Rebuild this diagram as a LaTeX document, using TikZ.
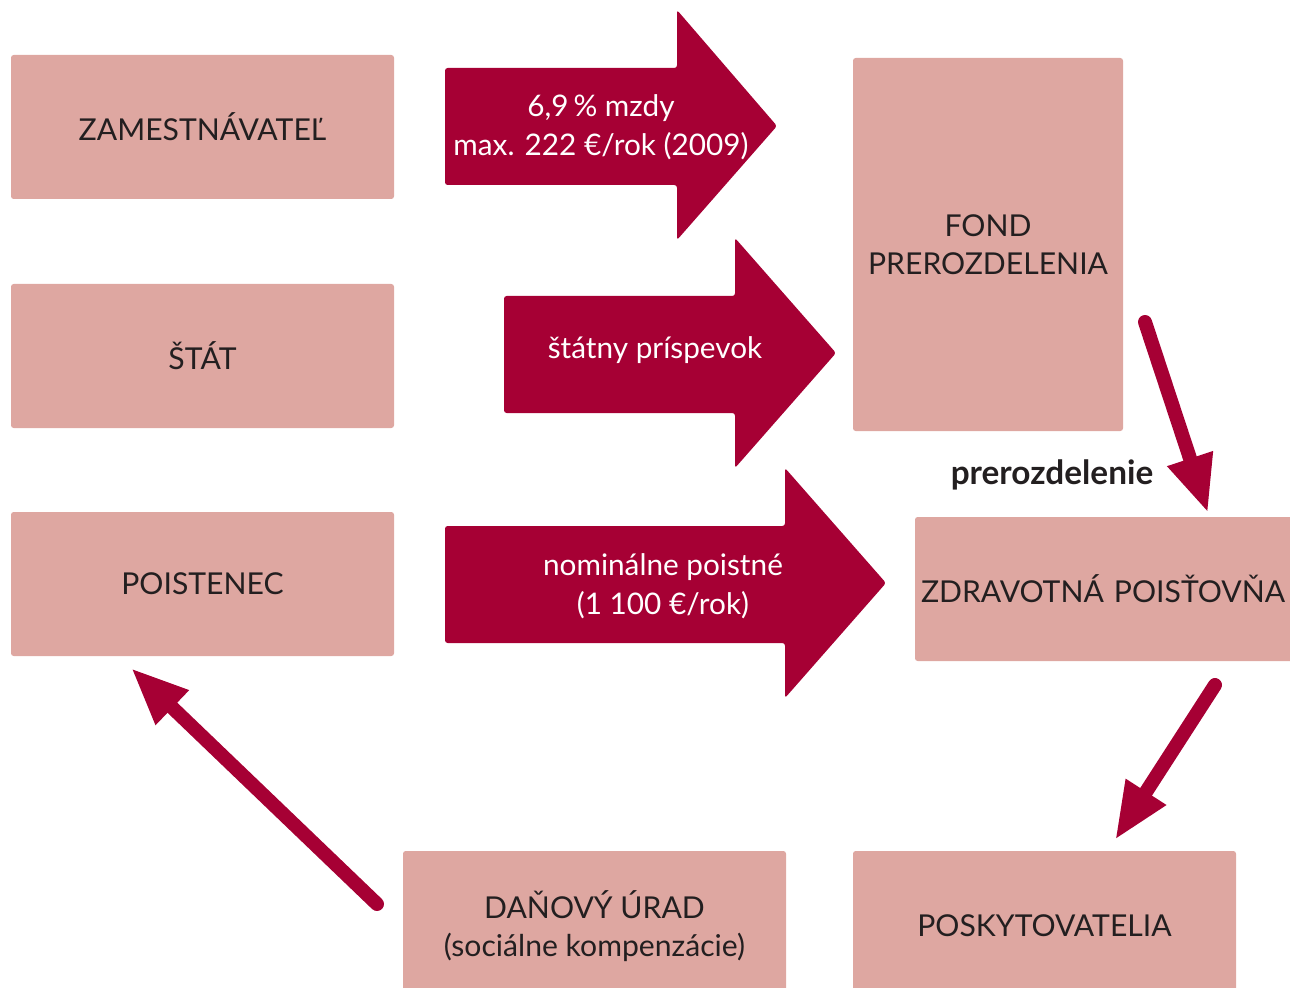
\documentclass[tikz,border=0pt]{standalone}
\usepackage{fontspec}
\setmainfont{Lato}
\usetikzlibrary{arrows.meta}
\definecolor{boxpink}{RGB}{222,167,161}
\definecolor{arrowred}{RGB}{166,0,52}
\definecolor{txtdark}{RGB}{35,31,32}
\tikzset{
  box/.style args={#1x#2}{fill=boxpink, rounded corners=2pt, minimum width=#1*0.75pt, minimum height=#2*0.75pt, inner sep=0pt, text=txtdark, align=center, font=\fontsize{22.6}{28.7}\selectfont},
  bigarrow/.style={fill=arrowred, rounded corners=2pt},
  arrowtext/.style={text=white, align=center, font=\fontsize{22.3}{29}\selectfont},
  thinarrow/.style={draw=arrowred, line width=10.5pt, line cap=round, -{Triangle[length=43pt,width=33pt]}}
}
\begin{document}
\begin{tikzpicture}[x=0.75pt,y=-0.75pt]
\useasboundingbox (0,0) rectangle (1290,988);
\clip (0,0) rectangle (1290,988);
% boxes
\node[box=383x144] (zam) at (202.5,127) {ZAMESTNÁVATEĽ};
\node[box=383x144] (stat) at (202.5,356) {ŠTÁT};
\node[box=383x144] (poi) at (202.5,584) {POISTENEC};
\node[box=270x373] (fond) at (988,244.5) {FOND\\PREROZDELENIA};
\node[box=390x144, align=left, text width=378*0.75pt, inner xsep=6*0.75pt] (zp) at (1110,589) {ZDRAVOTNÁ POISŤOVŇA};
\node[box=383x150] (dan) at (594.5,926) {DAŇOVÝ ÚRAD\\(sociálne kompenzácie)};
\node[box=383x150] (pos) at (1044.5,926) {POSKYTOVATELIA};
% big arrows
\fill[bigarrow] (445,68) -- (677,68) -- (677,10) -- (777,126) -- (677,240) -- (677,185) -- (445,185) -- cycle;
\node[arrowtext] (a1) at (601,127) {6,9\,\% mzdy\\max. 222 €/rok (2009)};
\fill[bigarrow] (504,296) -- (735,296) -- (735,238) -- (836,353) -- (735,468) -- (735,413) -- (504,413) -- cycle;
\node[arrowtext] (a2) at (655,350) {štátny príspevok};
\fill[bigarrow] (445,526) -- (785,526) -- (785,468) -- (886,583) -- (785,698) -- (785,643) -- (445,643) -- cycle;
\node[arrowtext] (a3) at (663,586) {nominálne poistné\\(1 100 €/rok)};
% thin arrows
\coordinate (s1) at (1145,322);
\coordinate (t1) at (1208,513);
\coordinate (s2) at (1215,685);
\coordinate (t2) at (1115,840);
\coordinate (s3) at (377,904);
\coordinate (t3) at (131,668);
\draw[thinarrow] (s1) -- (t1);
\draw[thinarrow] (s2) -- (t2);
\draw[thinarrow] (s3) -- (t3);
\node[text=txtdark, font=\bfseries\fontsize{25}{30}\selectfont] (prer) at (1052,475) {prerozdelenie};
\end{tikzpicture}
\end{document}
